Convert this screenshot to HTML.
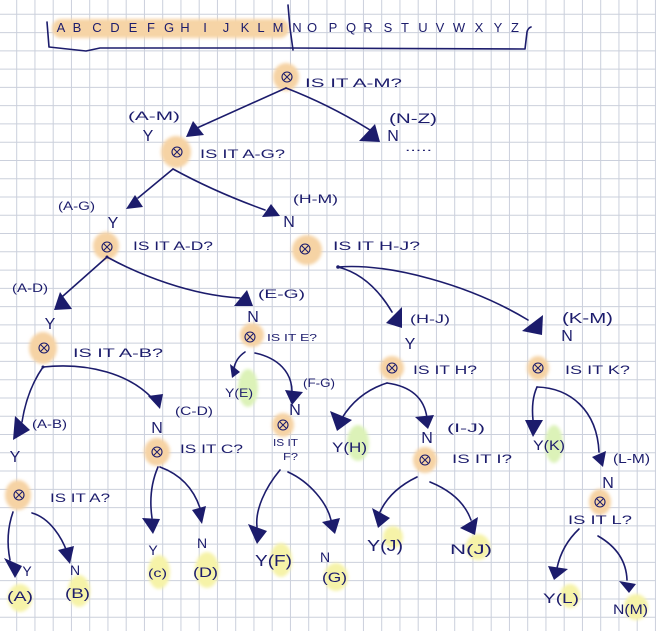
<!DOCTYPE html>
<html><head><meta charset="utf-8">
<style>
html,body{margin:0;padding:0;background:#fff;}
svg{display:block;}
text{font-family:"Liberation Sans",sans-serif;fill:#1c1c6c;}
</style></head><body>
<svg width="656" height="631" viewBox="0 0 656 631" xmlns="http://www.w3.org/2000/svg">
<defs>
<filter id="b" x="-60%" y="-60%" width="220%" height="220%"><feGaussianBlur stdDeviation="1.6"/></filter>
<g id="sym"><circle r="5" fill="none" stroke="#1c1c6c" stroke-width="1.1"/><path d="M-3,-3L3,3M3,-3L-3,3" stroke="#1c1c6c" stroke-width="1" fill="none"/></g>
</defs>
<rect width="656" height="631" fill="#fff"/>
<!-- grid -->
<path stroke="#cbd0dc" stroke-width="1" fill="none" d="M16.7 0V631M34.95 0V631M53.2 0V631M71.45 0V631M89.7 0V631M107.95 0V631M126.2 0V631M144.45 0V631M162.7 0V631M180.95 0V631M199.2 0V631M217.45 0V631M235.7 0V631M253.95 0V631M272.2 0V631M290.45 0V631M308.7 0V631M326.95 0V631M345.2 0V631M363.45 0V631M381.7 0V631M399.95 0V631M418.2 0V631M436.45 0V631M454.7 0V631M472.95 0V631M491.2 0V631M509.45 0V631M527.7 0V631M545.95 0V631M564.2 0V631M582.45 0V631M600.7 0V631M618.95 0V631M637.2 0V631M655.45 0V631
M0 14.3H656M0 32.57H656M0 50.84H656M0 69.11H656M0 87.38H656M0 105.65H656M0 123.92H656M0 142.19H656M0 160.46H656M0 178.73H656M0 197H656M0 215.27H656M0 233.54H656M0 251.81H656M0 270.08H656M0 288.35H656M0 306.62H656M0 324.89H656M0 343.16H656M0 361.43H656M0 379.7H656M0 397.97H656M0 416.24H656M0 434.51H656M0 452.78H656M0 471.05H656M0 489.32H656M0 507.59H656M0 525.86H656M0 544.13H656M0 562.4H656M0 580.67H656M0 598.94H656M0 617.21H656"/>

<!-- highlight blobs -->
<g filter="url(#b)">
<rect x="52" y="19" width="237" height="19" rx="9" fill="#f6d4a6"/>
<g fill="#f6d3a4">
<ellipse cx="286" cy="77" rx="13" ry="14"/>
<ellipse cx="176" cy="152" rx="15" ry="16"/>
<ellipse cx="106" cy="246" rx="13" ry="14"/>
<ellipse cx="307" cy="250" rx="15" ry="15"/>
<ellipse cx="43" cy="348" rx="14" ry="16"/>
<ellipse cx="252" cy="335" rx="12" ry="12"/>
<ellipse cx="392" cy="368" rx="12" ry="12"/>
<ellipse cx="538" cy="368" rx="11" ry="12"/>
<ellipse cx="18" cy="495" rx="13" ry="15"/>
<ellipse cx="157" cy="452" rx="13" ry="14"/>
<ellipse cx="283" cy="425" rx="11" ry="12"/>
<ellipse cx="425" cy="460" rx="12" ry="13"/>
<ellipse cx="600" cy="502" rx="11" ry="13"/>
</g>
<g fill="#dcf2b8">
<ellipse cx="248" cy="388" rx="10" ry="19"/>
<ellipse cx="358" cy="443" rx="11" ry="18"/>
<ellipse cx="554" cy="444" rx="9" ry="19"/>
</g>
<g fill="#f6f3a8">
<ellipse cx="393" cy="537" rx="10" ry="11"/>
<ellipse cx="478" cy="547" rx="12" ry="13"/>
<ellipse cx="570" cy="596" rx="10" ry="12"/>
<ellipse cx="636" cy="607" rx="12" ry="13"/>
<ellipse cx="20" cy="598" rx="12" ry="14"/>
<ellipse cx="79" cy="591" rx="11" ry="16"/>
<ellipse cx="159" cy="572" rx="11" ry="17"/>
<ellipse cx="207" cy="570" rx="12" ry="18"/>
<ellipse cx="281" cy="560" rx="11" ry="17"/>
<ellipse cx="336" cy="577" rx="12" ry="14"/>
</g>
</g>

<!-- header bracket -->
<g stroke="#1c1c6c" stroke-width="1.6" fill="none" stroke-linecap="round" stroke-linejoin="round">
<path d="M47,22 L49,47 L86,51 L100,48 L289,48 L525,49 L527,32 Q528,28 531,27"/>
<path d="M288,5 L290,28 L293,50"/>
</g>
<g font-size="13" text-anchor="middle">
<text x="61" y="32">A</text><text x="77" y="32">B</text><text x="97" y="32">C</text><text x="115" y="32">D</text><text x="133" y="32">E</text><text x="151" y="32">F</text><text x="169" y="32">G</text><text x="185" y="32">H</text><text x="205" y="32">I</text><text x="226" y="32">J</text><text x="245" y="32">K</text><text x="261" y="32">L</text><text x="278" y="32">M</text><text x="297" y="32">N</text><text x="312" y="32">O</text><text x="333" y="32">P</text><text x="351" y="32">Q</text><text x="368" y="32">R</text><text x="388" y="32">S</text><text x="405" y="32">T</text><text x="423" y="32">U</text><text x="440" y="32">V</text><text x="459" y="32">W</text><text x="479" y="32">X</text><text x="498" y="32">Y</text><text x="515" y="32">Z</text>
</g>

<!-- node symbols -->
<use href="#sym" x="287" y="77"/>
<use href="#sym" x="177" y="152"/>
<use href="#sym" x="107" y="247"/>
<use href="#sym" x="305" y="249"/>
<use href="#sym" x="44" y="348"/>
<use href="#sym" x="250" y="337"/>
<use href="#sym" x="392" y="368"/>
<use href="#sym" x="538" y="368"/>
<use href="#sym" x="19" y="495"/>
<use href="#sym" x="157" y="452"/>
<use href="#sym" x="283" y="425"/>
<use href="#sym" x="425" y="460"/>
<use href="#sym" x="600" y="502"/>

<!-- edges -->
<g stroke="#1c1c6c" stroke-width="1.6" fill="none" stroke-linecap="round">
<path d="M286,88 L197,128"/>
<path d="M286,88 Q330,105 370,130"/>
<path d="M173,169 L138,198"/>
<path d="M173,169 Q215,192 265,210"/>
<path d="M107,257 L63,296"/>
<path d="M107,257 C140,275 190,295 240,298"/>
<path d="M338,267 Q370,275 392,312"/>
<path d="M338,267 C390,263 470,285 528,320"/>
<path d="M43,367 Q27,390 22,422"/>
<path d="M43,367 C90,362 130,375 152,398"/>
<path d="M245,352 Q236,358 234,368"/>
<path d="M255,353 C278,358 292,372 292,392"/>
<path d="M387,383 Q358,392 342,418"/>
<path d="M387,383 Q423,388 427,418"/>
<path d="M417,477 Q390,490 380,512"/>
<path d="M430,482 Q462,495 471,520"/>
<path d="M537,387 Q531,400 533,420"/>
<path d="M537,387 C570,388 597,410 599,452"/>
<path d="M579,529 Q562,545 557,568"/>
<path d="M598,536 Q626,552 627,580"/>
<path d="M13,512 Q5,535 10,560"/>
<path d="M32,513 C50,518 62,538 67,552"/>
<path d="M158,467 Q148,490 152,518"/>
<path d="M160,467 Q190,478 200,508"/>
<path d="M280,470 C265,488 255,510 257,527"/>
<path d="M288,472 C310,482 327,503 331,520"/>
</g>
<g fill="#1c1c6c">
<circle cx="338" cy="267" r="1.8"/><circle cx="107" cy="257" r="1.5"/><circle cx="43" cy="367" r="1.5"/>
<polygon points="193,121 186,137 204,135"/>
<polygon points="375,124 359,141 380,142"/>
<polygon points="135,195 126,209 143,207"/>
<polygon points="271,204 262,217 280,216"/>
<polygon points="60,292 54,310 72,309"/>
<polygon points="247,290 234,306 253,306"/>
<polygon points="402,307 386,323 402,328"/>
<polygon points="543,315 522,331 542,335"/>
<polygon points="15,416 13,440 30,430"/>
<polygon points="148,396 163,394 160,409"/>
<polygon points="230,364 232,378 240,372"/>
<polygon points="285,390 303,392 292,405"/>
<polygon points="330,411 352,420 337,431"/>
<polygon points="415,417 434,415 428,429"/>
<polygon points="372,508 390,518 378,528"/>
<polygon points="460,528 478,517 475,535"/>
<polygon points="525,420 543,420 533,437"/>
<polygon points="592,457 606,451 603,467"/>
<polygon points="548,566 568,569 554,580"/>
<polygon points="619,581 636,584 629,593"/>
<polygon points="4,558 22,566 15,578"/>
<polygon points="58,550 74,546 70,564"/>
<polygon points="142,518 160,519 153,534"/>
<polygon points="192,510 206,506 202,524"/>
<polygon points="248,524 267,531 257,544"/>
<polygon points="322,522 340,518 335,534"/>
</g>

<!-- question labels -->
<g font-size="12">
<text x="305" y="87" textLength="97" lengthAdjust="spacingAndGlyphs">IS IT A-M?</text>
<text x="200" y="158" textLength="85" lengthAdjust="spacingAndGlyphs">IS IT A-G?</text>
<text x="133" y="250" textLength="80" lengthAdjust="spacingAndGlyphs">IS IT A-D?</text>
<text x="333" y="250" textLength="87" lengthAdjust="spacingAndGlyphs">IS IT H-J?</text>
<text x="73" y="357" textLength="90" lengthAdjust="spacingAndGlyphs">IS IT A-B?</text>
<text x="267" y="341" font-size="10" textLength="50" lengthAdjust="spacingAndGlyphs">IS IT E?</text>
<text x="413" y="374" textLength="64" lengthAdjust="spacingAndGlyphs">IS IT H?</text>
<text x="565" y="374" textLength="65" lengthAdjust="spacingAndGlyphs">IS IT K?</text>
<text x="50" y="502" textLength="60" lengthAdjust="spacingAndGlyphs">IS IT A?</text>
<text x="180" y="453" textLength="63" lengthAdjust="spacingAndGlyphs">IS IT C?</text>
<text x="273" y="446" font-size="10" textLength="25" lengthAdjust="spacingAndGlyphs">IS IT</text>
<text x="283" y="460" font-size="10" textLength="15" lengthAdjust="spacingAndGlyphs">F?</text>
<text x="452" y="463" textLength="60" lengthAdjust="spacingAndGlyphs">IS IT I?</text>
<text x="568" y="524" textLength="64" lengthAdjust="spacingAndGlyphs">IS IT L?</text>
</g>

<!-- range labels -->
<g font-size="12">
<text x="128" y="120" textLength="52" lengthAdjust="spacingAndGlyphs">(A-M)</text>
<text x="389" y="123" font-size="14" textLength="48" lengthAdjust="spacingAndGlyphs">(N-Z)</text>
<text x="405" y="151" textLength="27" lengthAdjust="spacingAndGlyphs">.....</text>
<text x="58" y="210" textLength="37" lengthAdjust="spacingAndGlyphs">(A-G)</text>
<text x="293" y="203" textLength="45" lengthAdjust="spacingAndGlyphs">(H-M)</text>
<text x="12" y="292" textLength="36" lengthAdjust="spacingAndGlyphs">(A-D)</text>
<text x="258" y="298" textLength="47" lengthAdjust="spacingAndGlyphs">(E-G)</text>
<text x="410" y="323" textLength="40" lengthAdjust="spacingAndGlyphs">(H-J)</text>
<text x="562" y="323" font-size="15" textLength="51" lengthAdjust="spacingAndGlyphs">(K-M)</text>
<text x="32" y="428" textLength="35" lengthAdjust="spacingAndGlyphs">(A-B)</text>
<text x="175" y="415" textLength="38" lengthAdjust="spacingAndGlyphs">(C-D)</text>
<text x="303" y="387" textLength="32" lengthAdjust="spacingAndGlyphs">(F-G)</text>
<text x="447" y="432" textLength="38" lengthAdjust="spacingAndGlyphs">(I-J)</text>
<text x="613" y="463" font-size="13" textLength="37" lengthAdjust="spacingAndGlyphs">(L-M)</text>
</g>

<!-- Y / N markers -->
<g font-size="16" text-anchor="middle">
<text x="148" y="141">Y</text>
<text x="393" y="141">N</text>
<text x="113" y="228">Y</text>
<text x="289" y="227">N</text>
<text x="50" y="329">Y</text>
<text x="253" y="322">N</text>
<text x="410" y="349">Y</text>
<text x="567" y="341">N</text>
<text x="15" y="462">Y</text>
<text x="157" y="433">N</text>
<text x="295" y="415">N</text>
<text x="427" y="443">N</text>
<text x="608" y="488">N</text>
<text x="27" y="576" font-size="14">Y</text>
<text x="75" y="575" font-size="14">N</text>
<text x="153" y="555" font-size="14">Y</text>
<text x="202" y="548" font-size="14">N</text>
<text x="325" y="562" font-size="14">N</text>
</g>

<!-- leaf labels -->
<g font-size="14">
<text x="225" y="397" font-size="12" textLength="28" lengthAdjust="spacingAndGlyphs">Y(E)</text>
<text x="332" y="452" textLength="35" lengthAdjust="spacingAndGlyphs">Y(H)</text>
<text x="533" y="450" textLength="32" lengthAdjust="spacingAndGlyphs">Y(K)</text>
<text x="367" y="551" font-size="16" textLength="36" lengthAdjust="spacingAndGlyphs">Y(J)</text>
<text x="450" y="554" textLength="42" lengthAdjust="spacingAndGlyphs">N(J)</text>
<text x="543" y="603" textLength="36" lengthAdjust="spacingAndGlyphs">Y(L)</text>
<text x="613" y="614" textLength="35" lengthAdjust="spacingAndGlyphs">N(M)</text>
<text x="7" y="601" textLength="26" lengthAdjust="spacingAndGlyphs">(A)</text>
<text x="65" y="598" textLength="25" lengthAdjust="spacingAndGlyphs">(B)</text>
<text x="148" y="577" font-size="12" textLength="19" lengthAdjust="spacingAndGlyphs">(c)</text>
<text x="193" y="577" textLength="25" lengthAdjust="spacingAndGlyphs">(D)</text>
<text x="255" y="566" font-size="16" textLength="37" lengthAdjust="spacingAndGlyphs">Y(F)</text>
<text x="322" y="582" textLength="25" lengthAdjust="spacingAndGlyphs">(G)</text>
</g>
</svg>
</body></html>
